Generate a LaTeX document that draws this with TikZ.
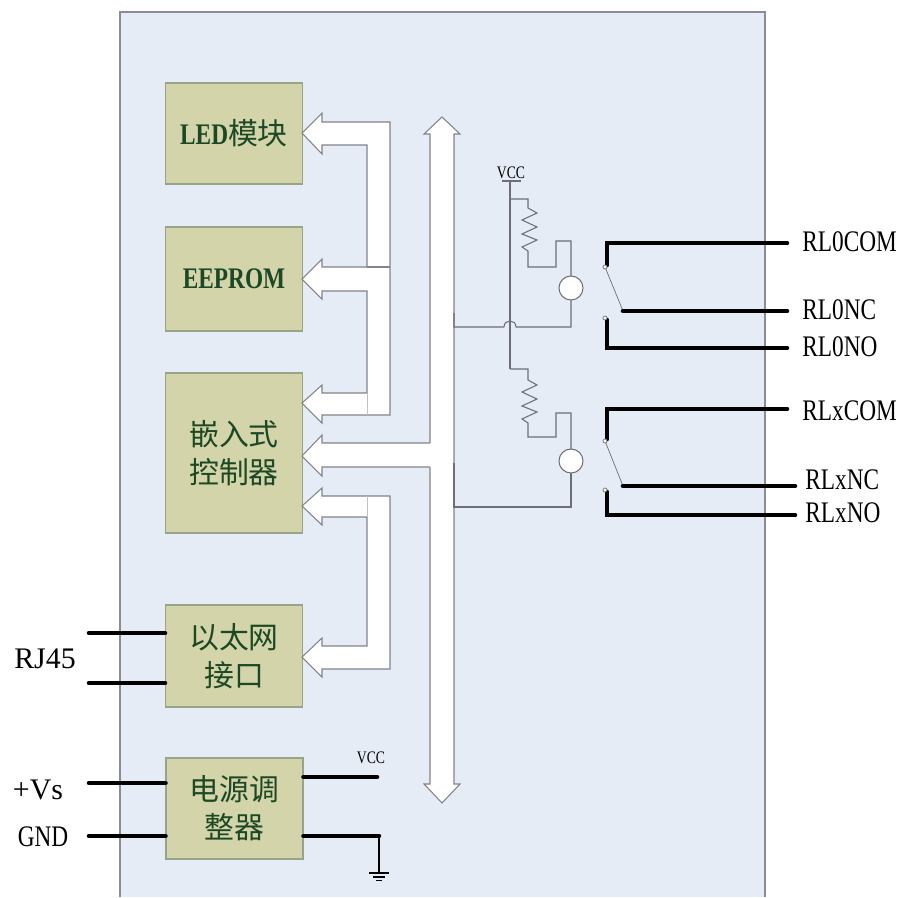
\documentclass[tikz,border=0pt]{standalone}
\usepackage{fontspec}
\setmainfont{Liberation Serif}
\newfontfamily\cjk{Noto Sans CJK SC}
\newfontfamily\narrow[FakeStretch=0.78]{Liberation Serif}
\usetikzlibrary{calc}
\definecolor{panelfill}{RGB}{230,236,246}
\definecolor{panelline}{RGB}{140,140,150}
\definecolor{boxfill}{RGB}{211,212,170}
\definecolor{boxline}{RGB}{150,165,135}
\definecolor{txtgreen}{RGB}{28,72,36}
\definecolor{wiregray}{RGB}{110,110,120}
\definecolor{arrowline}{RGB}{130,130,140}
\tikzset{
	blk/.style={draw=boxline, fill=boxfill, line width=0.6pt, minimum width=2.74cm, text=txtgreen, align=center, font=\cjk\fontsize{17}{21.5}\selectfont},
	wire/.style={line width=0.6pt, color=wiregray},
	pin/.style={line width=2.6pt, line cap=round},
	bigarrow/.style={fill=white, draw=arrowline, line width=0.6pt},
	lbl/.style={inner sep=0pt, font=\narrow\fontsize{17}{20}\selectfont},
	small/.style={inner sep=0pt, font=\narrow\fontsize{10}{12}\selectfont}
}

\begin{document}
\begin{tikzpicture}[x=0.02cm, y=-0.02cm]
		%%%%% START %%%%%
		\useasboundingbox (0,0) rectangle (900,897);
		
		% panel
		\fill[panelfill] (120,12) rectangle (765,897);
		\draw[panelline, line width=0.6pt] (120,897) -- (120,12) -- (765,12) -- (765,897);
		
		% blocks
		\node[blk, minimum height=2.02cm] (led) at (234,133.5) {{\narrow\bfseries LED}模块};
		\node[blk, minimum height=2.08cm] (eeprom) at (234,279) {\narrow\bfseries EEPROM};
		\node[blk, minimum height=3.2cm] (mcu) at (234,453) {嵌入式\\控制器};
		\node[blk, minimum height=2.04cm] (eth) at (234,656) {以太网\\接口};
		\node[blk, minimum height=2.02cm] (pwr) at (234.5,808.5) {电源调\\整器};
		
		% bus
		\draw[bigarrow] (442,117) -- (460,134) -- (454,134) -- (454,784) -- (460,784) -- (442,803) -- (424,784) -- (430,784) -- (430,134) -- (424,134) -- cycle;
		
		% upper arrows
		\draw[bigarrow] (302,133) -- (322,113) -- (322,122) -- (390,122) -- (390,415) -- (322,415) -- (322,423) -- (302,403) -- (322,385) -- (322,393) -- (367,393) -- (367,291) -- (322,291) -- (322,299) -- (302,279) -- (322,259) -- (322,267) -- (367,267) -- (367,145) -- (322,145) -- (322,154) -- cycle;
		\draw[arrowline, line width=0.6pt] (367,267) -- (390,267);
		\draw[arrowline!50, line width=0.5pt] (367,393) -- (367,415);
		
		% middle arrow
		\fill[white] (302,456) -- (322,435) -- (322,443) -- (431,443) -- (431,467) -- (322,467) -- (322,476) -- cycle;
		\draw[arrowline, line width=0.6pt] (430,443) -- (322,443) -- (322,435) -- (302,456) -- (322,476) -- (322,467) -- (430,467);
		
		% lower arrows
		\draw[bigarrow] (302,506) -- (322,488) -- (322,496) -- (390,496) -- (390,669) -- (322,669) -- (322,677) -- (302,657) -- (322,638) -- (322,646) -- (367,646) -- (367,517) -- (322,517) -- (322,525) -- cycle;
		\draw[arrowline!50, line width=0.5pt] (367,496) -- (367,517);
		
		% relay drive
		\node[small] (vcctop) at (511,173) {VCC};
		\draw[wire] (502,181) -- (521,181);
		\draw[wire] (510,181) -- (510,369);
		
		\draw[wire] (510,199) -- (528,199) -- (528,208) -- (537,213) -- (522,220) -- (537,227) -- (522,234) -- (537,240) -- (522,247) -- (528,251) -- (528,267) -- (556,267) -- (556,241) -- (571,241) -- (571,276);
		\draw[wire, fill=white] (571,288) circle (12);
		\draw[wire] (571,300) -- (571,327) -- (516,327) .. controls (516,319) and (504,319) .. (504,327) -- (454,327) -- (454,313);
		
		\draw[wire] (510,369) -- (528,369) -- (528,380) -- (537,385) -- (522,392) -- (537,399) -- (522,406) -- (537,412) -- (522,419) -- (528,423) -- (528,437) -- (556,437) -- (556,413) -- (571,413) -- (571,449);
		\draw[wire, fill=white] (571,461) circle (12);
		\draw[wire] (571,473) -- (571,507) -- (454,507) -- (454,463);
		
		% relay contacts
		\node[lbl, anchor=west] (com0) at (802,242) {RL0COM};
		\node[lbl, anchor=west] (nc0) at (802,310) {RL0NC};
		\node[lbl, anchor=west] (no0) at (802,347) {RL0NO};
		\node[lbl, anchor=west] (comx) at (802,411) {RLxCOM};
		\node[lbl, anchor=west] (ncx) at (805,480) {RLxNC};
		\node[lbl, anchor=west] (nox) at (805,513) {RLxNO};
		
		\draw[pin] (607,265) -- (607,243) -- ([xshift=-0.3cm]com0.west |- 0,243);
		\draw[wire, line width=0.4pt] (605,267) -- (623,311);
		\draw[pin] (623,311) -- ([xshift=-0.3cm]nc0.west |- 0,311);
		\draw[pin] (607,320) -- (607,348) -- ([xshift=-0.3cm]no0.west |- 0,348);
		\draw[wire, line width=0.4pt, fill=white] (605,267) circle (2) (605,318) circle (2);
		
		\draw[pin] (607,439) -- (607,409) -- ([xshift=-0.3cm]comx.west |- 0,409);
		\draw[wire, line width=0.4pt] (605,441) -- (623,486);
		\draw[pin] (623,486) -- ([xshift=-0.2cm]ncx.west |- 0,486);
		\draw[pin] (607,492) -- (607,515) -- ([xshift=-0.2cm]nox.west |- 0,515);
		\draw[wire, line width=0.4pt, fill=white] (605,441) circle (2) (605,490) circle (2);
		
		% ethernet side
		\node[font=\fontsize{17}{20}\selectfont, inner sep=0pt] (rj) at (45,659) {RJ45};
		\coordinate (rjA) at (89,633);
		\coordinate (rjB) at (89,683);
		\draw[pin] (rjA) -- (rjA -| eth.west);
		\draw[pin] (rjB) -- (rjB -| eth.west);
		
		% power side
		\node[font=\fontsize{17}{20}\selectfont, inner sep=0pt] (vs) at (38,790) {+Vs};
		\node[lbl] (gnd) at (43,837) {GND};
		\coordinate (vsin) at (89,783);
		\coordinate (gndin) at (89,836);
		\draw[pin] (vsin) -- (vsin -| pwr.west);
		\draw[pin] (gndin) -- (gndin -| pwr.west);
		
		\node[small] (vccbot) at (371,758) {VCC};
		\coordinate (vccout) at (377,777);
		\coordinate (gndout) at (379,836);
		\draw[pin] (vccout -| pwr.east) -- (vccout);
		\draw[pin] (gndout -| pwr.east) -- (gndout);
		\draw[line width=1pt] (gndout) -- (379,873);
		\draw[line width=1pt] (369,873) -- (389,873);
		\draw[line width=1pt] (373,877) -- (385,877);
		\draw[line width=1pt] (376,880.5) -- (382,880.5);
		
		%%%%% END %%%%%
	\end{tikzpicture}
\end{document}
